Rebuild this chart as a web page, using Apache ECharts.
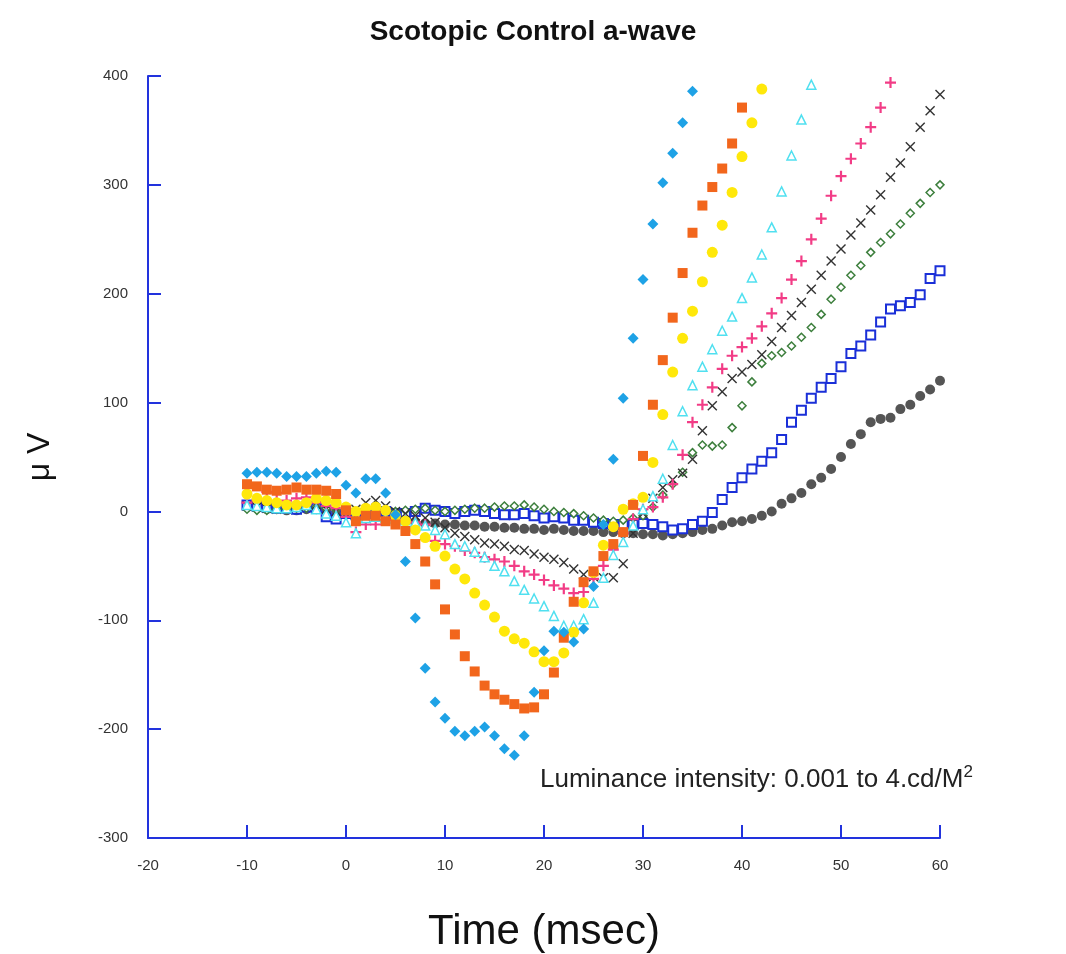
<!DOCTYPE html>
<html>
<head>
<meta charset="utf-8">
<script src="https://cdn.jsdelivr.net/npm/echarts@6/dist/echarts.min.js"></script>
<style>
  html, body { margin: 0; padding: 0; background: #fff; }
  #awave { width: 1066px; height: 954px; }
</style>
</head>
<body>
<div id="awave"></div>
<script>
// time axis, one sample per msec
const times = [];
for (let t = -10; t <= 60; t++) times.push(t);

// values (µV), one per time from -10 ms; series stop where the trace leaves the plot
const lum1 = [35, 36, 36, 35, 32, 32, 32, 35, 37, 36,
  24, 17, 30, 30, 17, -3, -46, -98, -144, -175,
  -190, -202, -206, -202, -198, -206, -218, -224, -206, -166,
  -128, -110, -111, -120, -108, -69, -12, 48, 104, 159,
  213, 264, 302, 329, 357, 386];
const lum2 = [25, 23, 20, 19, 20, 22, 20, 20, 19, 16,
  1, -9, -4, -4, -9, -12, -18, -30, -46, -67,
  -90, -113, -133, -147, -160, -168, -173, -177, -181, -180,
  -168, -148, -116, -83, -65, -55, -41, -30, -19, 6,
  51, 98, 139, 178, 219, 256, 281, 298, 315, 338, 371];
const lum3 = [16, 12, 10, 8, 6, 6, 8, 12, 10, 8,
  4, 0, 3, 4, 1, -4, -9, -17, -24, -32,
  -41, -53, -62, -75, -86, -97, -110, -117, -121, -129,
  -138, -138, -130, -111, -84, -56, -31, -14, 2, 7,
  13, 45, 89, 128, 159, 184, 211, 238, 263, 293,
  326, 357, 388];
const lum4 = [6, 5, 4, 3, 3, 4, 6, 2, -2, -4,
  -10, -20, -6, -5, -6, -7, -8, -10, -13, -17,
  -21, -30, -32, -37, -42, -50, -55, -64, -72, -80,
  -87, -96, -105, -105, -99, -84, -61, -40, -28, -13,
  2, 14, 30, 61, 92, 116, 133, 149, 166, 179,
  196, 215, 236, 261, 294, 327, 360, 392];
const lum5 = [8, 10, 18, 17, 10, 12, 13, 8, 5, 3,
  -5, -19, -12, -12, -8, -8, -8, -10, -12, -27,
  -30, -32, -36, -38, -42, -44, -46, -50, -55, -58,
  -63, -68, -71, -75, -74, -62, -50, -35, -20, -7,
  2, 4, 13, 25, 52, 82, 98, 114, 131, 143,
  151, 159, 170, 182, 196, 213, 230, 250, 269, 290,
  308, 324, 338, 353, 371, 394];
const lum6 = [5, 4, 3, 2, 3, 4, 5, 6, 2, 0,
  -2, 2, 8, 10, 5, 0, -2, -4, -6, -10,
  -15, -20, -23, -26, -29, -30, -32, -35, -36, -39,
  -42, -44, -47, -53, -58, -60, -61, -61, -48, -20,
  -2, 12, 22, 29, 35, 48, 74, 97, 110, 122,
  128, 135, 144, 156, 169, 180, 192, 204, 217, 230,
  241, 254, 265, 277, 291, 307, 320, 335, 353, 368, 383];
const lum7 = [2, 1, 1, 2, 2, 3, 3, 4, 3, 2,
  0, -2, 2, 4, 2, 0, 1, 2, 3, 1,
  0, 1, 2, 3, 3, 4, 5, 5, 6, 4,
  2, 0, -1, -2, -4, -6, -8, -9, -8, -6,
  -4, 4, 15, 25, 36, 54, 61, 60, 61, 77,
  97, 119, 136, 143, 146, 152, 160, 169, 181, 195,
  206, 217, 226, 238, 247, 255, 264, 274, 283, 293, 300];
const lum8 = [6, 5, 4, 3, 3, 2, 4, 3, -5, -7,
  -2, -3, -2, 0, 0, -2, -2, 0, 3, 1,
  0, -2, 0, 1, 0, -2, -3, -3, -2, -4,
  -6, -5, -6, -8, -8, -10, -11, -12, -12, -12,
  -11, -12, -14, -17, -16, -12, -9, -1, 11, 22,
  31, 39, 46, 54, 66, 82, 93, 104, 114, 122,
  133, 145, 152, 162, 174, 186, 189, 192, 199, 214, 221];
const lum9 = [4, 3, 2, 2, 1, 1, 2, 2, 1, 0,
  -2, -3, -2, -3, -5, -6, -8, -10, -11, -11,
  -12, -12, -13, -13, -14, -14, -15, -15, -16, -16,
  -17, -16, -17, -18, -18, -18, -19, -19, -20, -20,
  -21, -21, -22, -21, -20, -19, -17, -16, -13, -10,
  -9, -7, -4, 0, 7, 12, 17, 25, 31, 39,
  50, 62, 71, 82, 85, 86, 94, 98, 106, 112, 120];

const xTicks = [-20, -10, 0, 10, 20, 30, 40, 50, 60];
const yTicks = [-300, -200, -100, 0, 100, 200, 300, 400];

const plusPath = 'path://M4,0H6V4H10V6H6V10H4V6H0V4H4Z';
const crossPath = 'path://M0,1L1,0L5,4L9,0L10,1L6,5L10,9L9,10L5,6L1,10L0,9L4,5Z';

function pairs (vals) {
  return vals.map((v, i) => [times[i], v]);
}

const axisBlue = '#2233dd';
const font = '"Liberation Sans", Arial, sans-serif';

let myChart = echarts.init(document.getElementById('awave'));
myChart.setOption({
  animation: false,
  backgroundColor: '#fff',
  title: {
    text: 'Scotopic Control a-wave',
    left: 'center',
    top: 13,
    textStyle: {
      fontFamily: font,
      fontSize: 28,
      fontWeight: 'bold',
      color: '#111'
    }
  },
  grid: {
    left: 148,
    right: 126,
    top: 76,
    bottom: 116,
    outerBoundsMode: 'none',
    containLabel: false
  },
  xAxis: {
    type: 'value',
    min: xTicks[0],
    max: xTicks[xTicks.length - 1],
    interval: 10,
    name: 'Time (msec)',
    nameLocation: 'middle',
    nameGap: 73,
    nameMoveOverlap: false,
    nameTextStyle: { fontFamily: font, fontSize: 42, color: '#111' },
    splitLine: { show: false },
    axisLine: { onZero: false, lineStyle: { color: axisBlue, width: 2 } },
    axisTick: { inside: true, length: 13, lineStyle: { color: axisBlue, width: 2 } },
    axisLabel: { margin: 20, fontFamily: font, fontSize: 15, color: '#333' }
  },
  yAxis: {
    type: 'value',
    min: yTicks[0],
    max: yTicks[yTicks.length - 1],
    interval: 100,
    name: 'μ V',
    nameLocation: 'middle',
    nameGap: 92,
    nameMoveOverlap: false,
    nameTextStyle: { fontFamily: font, fontSize: 32, color: '#111' },
    splitLine: { show: false },
    axisLine: { show: true, onZero: false, lineStyle: { color: axisBlue, width: 2 } },
    axisTick: { show: true, inside: true, length: 13, lineStyle: { color: axisBlue, width: 2 } },
    axisLabel: { margin: 20, fontFamily: font, fontSize: 15, color: '#333' }
  },
  graphic: [{
    type: 'text',
    left: 540,
    top: 764,
    style: {
      text: '{t|Luminance intensity: 0.001 to 4.cd/M}{s|2}',
      rich: {
        t: { fontFamily: font, fontSize: 26, fill: '#222' },
        s: { fontFamily: font, fontSize: 17, fill: '#222', padding: [0, 0, 15, 0] }
      }
    }
  }],
  series: [
    {
      name: 'lum9', type: 'scatter', data: pairs(lum9),
      symbol: 'circle', symbolSize: 10,
      itemStyle: { color: '#555555', opacity: 1 }
    },
    {
      name: 'lum8', type: 'scatter', data: pairs(lum8),
      symbol: 'rect', symbolSize: 9,
      itemStyle: { color: '#ffffff', borderColor: '#1a2fd8', borderWidth: 2, opacity: 1 }
    },
    {
      name: 'lum7', type: 'scatter', data: pairs(lum7),
      symbol: 'diamond', symbolSize: 8,
      itemStyle: { color: '#ffffff', borderColor: '#3d7f3d', borderWidth: 1.5, opacity: 1 }
    },
    {
      name: 'lum6', type: 'scatter', data: pairs(lum6),
      symbol: crossPath, symbolSize: 10,
      itemStyle: { color: '#333333', opacity: 1 }
    },
    {
      name: 'lum5', type: 'scatter', data: pairs(lum5),
      symbol: plusPath, symbolSize: 11,
      itemStyle: { color: '#f23c86', opacity: 1 }
    },
    {
      name: 'lum4', type: 'scatter', data: pairs(lum4),
      symbol: 'triangle', symbolSize: 9,
      itemStyle: { color: '#ffffff', borderColor: '#50e0f0', borderWidth: 1.5, opacity: 1 }
    },
    {
      name: 'lum3', type: 'scatter', data: pairs(lum3),
      symbol: 'circle', symbolSize: 11,
      itemStyle: { color: '#ffe80a', opacity: 1 }
    },
    {
      name: 'lum2', type: 'scatter', data: pairs(lum2),
      symbol: 'rect', symbolSize: 10,
      itemStyle: { color: '#f2661c', opacity: 1 }
    },
    {
      name: 'lum1', type: 'scatter', data: pairs(lum1),
      symbol: 'diamond', symbolSize: 11,
      itemStyle: { color: '#1ea2e6', opacity: 1 }
    }
  ]
});
window.addEventListener('resize', () => {
  myChart.resize();
});
</script>
</body>
</html>
